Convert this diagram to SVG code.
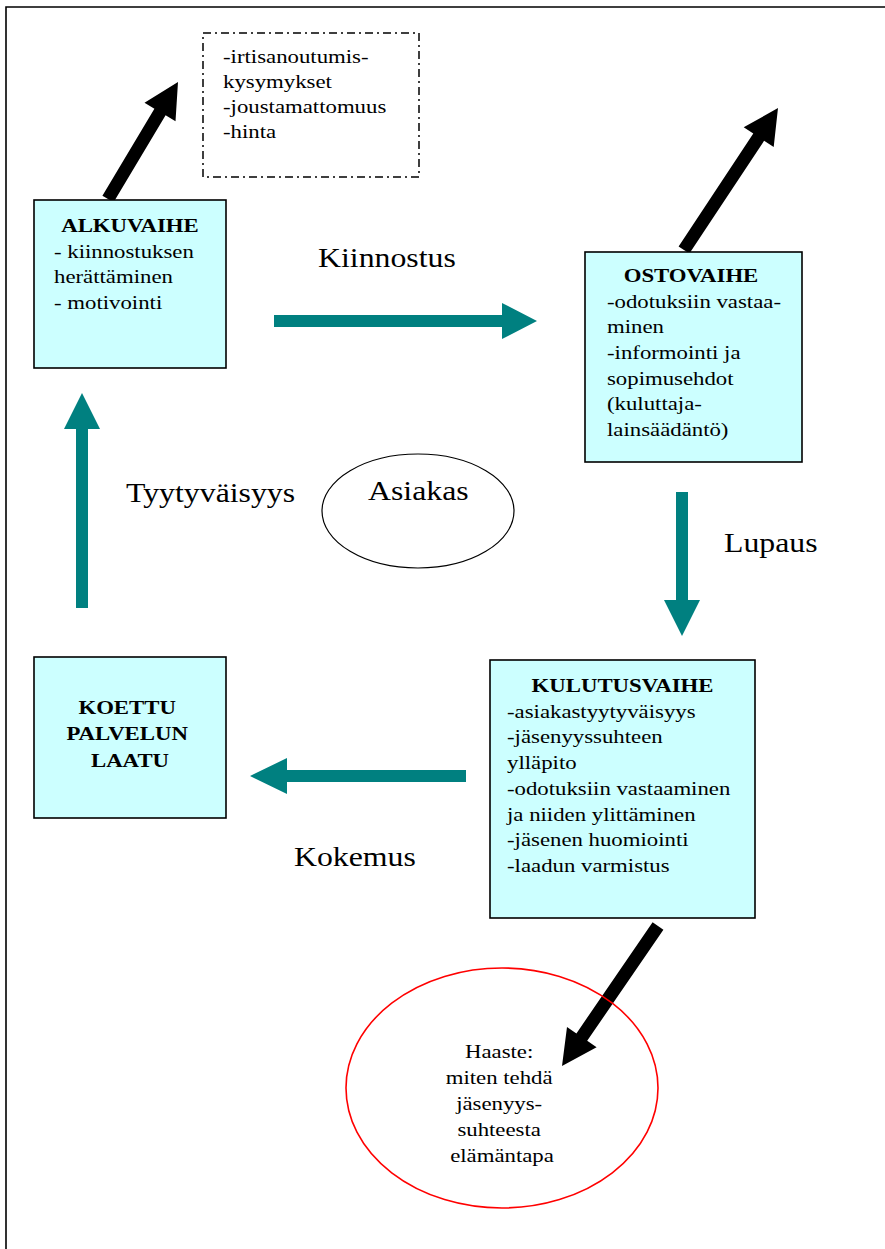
<svg xmlns="http://www.w3.org/2000/svg" width="885" height="1249" viewBox="0 0 885 1249">
  <style>
    .t { font-family: 'Liberation Serif', 'DejaVu Serif', serif; font-size: 19px; fill: #000; }
    .b { font-weight: bold; }
    .lbl { font-size: 26.5px; }
    .box { fill: #CCFFFF; stroke: #000; stroke-width: 1.6; }
    .teal { fill: #008080; }
    .blk { fill: #000; }
  </style>

  <!-- page frame -->
  <path d="M6,1249 V7 H885" fill="none" stroke="#000" stroke-width="1.6"/>

  <!-- connectors -->
  <g id="connectors">
    <!-- Kiinnostus: ALKUVAIHE -> OSTOVAIHE -->
    <polygon class="teal" points="274,315 502,315 502,303 537,321 502,339 502,327 274,327"/>
    <!-- Lupaus: OSTOVAIHE -> KULUTUSVAIHE -->
    <polygon class="teal" points="676,492 688,492 688,600 700,600 682,636 664,600 676,600"/>
    <!-- Kokemus: KULUTUSVAIHE -> KOETTU PALVELUN LAATU -->
    <polygon class="teal" points="466,770 466,782 287,782 287,794 250,776 287,758 287,770"/>
    <!-- Tyytyväisyys: KOETTU PALVELUN LAATU -> ALKUVAIHE -->
    <polygon class="teal" points="76,608 76,429 64,429 82,393 100,429 88,429 88,608"/>
    <!-- exit arrows -->
    <polygon class="blk" points="102.4,195.7 154.4,108.7 144.5,102.8 178,82 175.5,121.2 165.6,115.3 113.6,202.3"/>
    <polygon class="blk" points="678.6,246.4 753.3,133.6 743.7,127.3 778,108 773.7,147.1 764.1,140.8 689.4,253.6"/>
    <polygon class="blk" points="652.6,922.3 576.4,1033.4 567,1026.9 562,1066 596.6,1047.3 587.2,1040.8 663.4,929.7"/>
  </g>

  <!-- connector labels -->
  <g id="labels">
    <text class="t lbl" transform="translate(318,267) scale(1.2,1)">Kiinnostus</text>
    <text class="t lbl" transform="translate(724,552) scale(1.2,1)">Lupaus</text>
    <text class="t lbl" transform="translate(294,866) scale(1.2,1)">Kokemus</text>
    <text class="t lbl" transform="translate(126,502) scale(1.2,1)">Tyytyväisyys</text>
  </g>

  <g id="irtisanoutuminen">
    <rect x="203" y="33" width="216" height="144" fill="#fff" stroke="#000" stroke-width="1.5" stroke-dasharray="8 4 2 4"/>
    <text class="t" transform="translate(223,63) scale(1.2,1)">
      <tspan x="0" dy="0">-irtisanoutumis-</tspan>
      <tspan x="0" dy="25">kysymykset</tspan>
      <tspan x="0" dy="25">-joustamattomuus</tspan>
      <tspan x="0" dy="25">-hinta</tspan>
    </text>
  </g>

  <g id="alkuvaihe">
    <rect class="box" x="34" y="200" width="192" height="168"/>
    <text class="t b" text-anchor="middle" transform="translate(130,232) scale(1.2,1)">ALKUVAIHE</text>
    <text class="t" transform="translate(54,258) scale(1.2,1)">
      <tspan x="0" dy="0">- kiinnostuksen</tspan>
      <tspan x="0" dy="25.5">herättäminen</tspan>
      <tspan x="0" dy="25.5">- motivointi</tspan>
    </text>
  </g>

  <g id="ostovaihe">
    <rect class="box" x="585" y="252" width="217" height="210"/>
    <text class="t b" text-anchor="middle" transform="translate(691,282) scale(1.2,1)">OSTOVAIHE</text>
    <text class="t" transform="translate(607,307.5) scale(1.2,1)">
      <tspan x="0" dy="0">-odotuksiin vastaa-</tspan>
      <tspan x="0" dy="25.7">minen</tspan>
      <tspan x="0" dy="25.7">-informointi ja</tspan>
      <tspan x="0" dy="25.7">sopimusehdot</tspan>
      <tspan x="0" dy="25.7">(kuluttaja-</tspan>
      <tspan x="0" dy="25.7">lainsäädäntö)</tspan>
    </text>
  </g>

  <g id="asiakas">
    <ellipse cx="418" cy="511" rx="96" ry="57" fill="#fff" stroke="#000" stroke-width="1.2"/>
    <text class="t lbl" transform="translate(368,500) scale(1.2,1)">Asiakas</text>
  </g>

  <g id="kulutusvaihe">
    <rect class="box" x="490" y="660" width="265" height="258"/>
    <text class="t b" text-anchor="middle" transform="translate(622.5,692) scale(1.2,1)">KULUTUSVAIHE</text>
    <text class="t" transform="translate(507,717.5) scale(1.2,1)">
      <tspan x="0" dy="0">-asiakastyytyväisyys</tspan>
      <tspan x="0" dy="25.8">-jäsenyyssuhteen</tspan>
      <tspan x="0" dy="25.8">ylläpito</tspan>
      <tspan x="0" dy="25.8">-odotuksiin vastaaminen</tspan>
      <tspan x="0" dy="25.8">ja niiden ylittäminen</tspan>
      <tspan x="0" dy="25.8">-jäsenen huomiointi</tspan>
      <tspan x="0" dy="25.8">-laadun varmistus</tspan>
    </text>
  </g>

  <g id="koettu-laatu">
    <rect class="box" x="34" y="657" width="192" height="161"/>
    <text class="t b" text-anchor="middle" transform="translate(130,714) scale(1.2,1)">
      <tspan x="0" dy="0">KOETTU</tspan>
      <tspan x="0" dy="26.3">PALVELUN</tspan>
      <tspan x="0" dy="26.3">LAATU</tspan>
    </text>
  </g>

  <g id="haaste">
    <ellipse cx="502" cy="1088" rx="156" ry="120" fill="none" stroke="#FF0000" stroke-width="1.6"/>
    <text class="t" text-anchor="middle" transform="translate(502,1058) scale(1.2,1)">
      <tspan x="0" dy="0">Haaste:</tspan>
      <tspan x="0" dy="26">miten tehdä</tspan>
      <tspan x="0" dy="26">jäsenyys-</tspan>
      <tspan x="0" dy="26">suhteesta</tspan>
      <tspan x="0" dy="26">elämäntapa</tspan>
    </text>
  </g>
</svg>
